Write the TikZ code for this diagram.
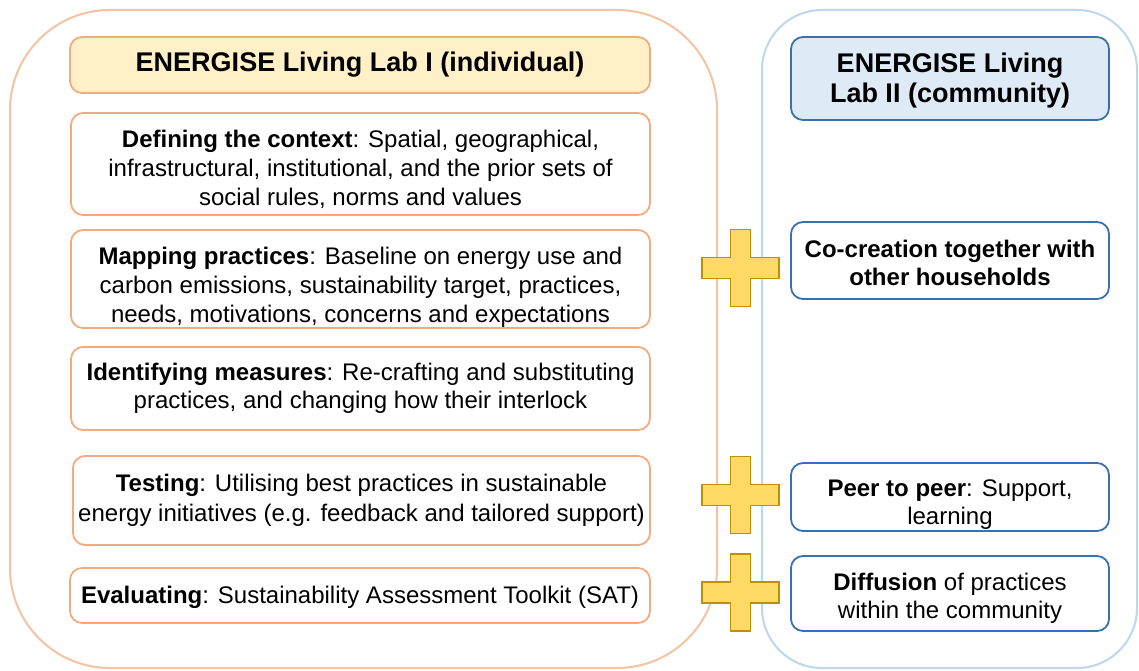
\documentclass[tikz,border=0pt]{standalone}
\usepackage{fontspec}
\setmainfont{Liberation Sans}
\definecolor{leftouter}{HTML}{F4C3A3}
\definecolor{obord}{HTML}{F0AC80}
\definecolor{ofill}{HTML}{FFF0C8}
\definecolor{rightouter}{HTML}{BDD7EE}
\definecolor{bbord}{HTML}{3A70B0}
\definecolor{bfill}{HTML}{DEEBF7}
\definecolor{plusfill}{HTML}{FFD966}
\definecolor{plusbord}{HTML}{BF9000}
\newcommand{\lowerby}[1]{\rule{0pt}{#1}}
\tikzset{
  outerL/.style={draw=leftouter, line width=2pt, rounded corners=100pt},
  outerR/.style={draw=rightouter, line width=2pt, rounded corners=60pt},
  obox/.style={draw=obord, line width=1.8pt, fill=white, rounded corners=12pt, inner sep=0pt, align=center, font=\fontsize{24}{29}\selectfont},
  otitle/.style={obox, fill=ofill, font=\fontsize{27}{30}\selectfont\bfseries},
  bbox/.style={draw=bbord, line width=1.8pt, fill=white, rounded corners=12pt, inner sep=0pt, align=center, minimum width=318pt, font=\fontsize{24}{28.5}\selectfont},
  btitle/.style={bbox, fill=bfill, font=\fontsize{27}{30}\selectfont\bfseries},
  plusstyle/.style={draw=plusbord, fill=plusfill, line width=1.2pt},
  pics/plussign/.style={code={\draw[plusstyle] (-10,-38.5) -- (10,-38.5) -- (10,-10.5) -- (38.5,-10.5) -- (38.5,10.5) -- (10,10.5) -- (10,38.5) -- (-10,38.5) -- (-10,10.5) -- (-38.5,10.5) -- (-38.5,-10.5) -- (-10,-10.5) -- cycle;}}
}
\begin{document}
\begin{tikzpicture}[x=1pt,y=-1pt]
\useasboundingbox (0,0) rectangle (1139,671);
\fill[white] (0,0) rectangle (1139,671);
% outer containers
\draw[outerL] (10,10) rectangle (717,668);
\draw[outerR] (762,10) rectangle (1137,668);
% left column
\node[otitle, minimum width=580pt, minimum height=56pt] (t1) at (360,65) {ENERGISE Living Lab I (individual)};
\node[obox, minimum width=579pt, minimum height=102pt] (b1) at (360.5,164) {\lowerby{27.5pt}\textbf{Defining the context}: Spatial, geographical,\\ infrastructural, institutional, and the prior sets of\\ social rules, norms and values};
\node[obox, minimum width=579pt, minimum height=98pt] (b2) at (360.5,279) {\lowerby{33.5pt}\textbf{Mapping practices}: Baseline on energy use and\\ carbon emissions, sustainability target, practices,\\ needs, motivations, concerns and expectations};
\node[obox, minimum width=579pt, minimum height=83pt, font=\fontsize{24}{28}\selectfont] (b3) at (360.5,388.5) {\textbf{Identifying measures}: Re-crafting and substituting\\ practices, and changing how their interlock};
\node[obox, minimum width=577pt, minimum height=89pt, font=\fontsize{24}{30}\selectfont] (b4) at (361.5,500.5) {\textbf{Testing}: Utilising best practices in sustainable\\ energy initiatives (e.g. feedback and tailored support)};
\node[obox, minimum width=580pt, minimum height=55pt] (b5) at (360,595.5) {\lowerby{21.5pt}\textbf{Evaluating}: Sustainability Assessment Toolkit (SAT)};
% right column
\node[btitle, minimum height=83pt] (t2) at (950,78.5) {\lowerby{24.5pt}ENERGISE Living\\ Lab II (community)};
\node[bbox, minimum height=77pt] (r1) at (950,260.5) {\lowerby{22.5pt}\textbf{Co-creation together with}\\ \textbf{other households}};
\node[bbox, minimum height=68pt] (r2) at (950,497) {\lowerby{31.5pt}\textbf{Peer to peer}: Support,\\ learning};
\node[bbox, minimum height=75pt] (r3) at (950,593.5) {\lowerby{26.5pt}\textbf{Diffusion} of practices\\ within the community};
% plus signs
\pic (p1) at (740.5,268) {plussign};
\pic (p2) at (740.5,495) {plussign};
\pic (p3) at (740.5,592.5) {plussign};
\end{tikzpicture}
\end{document}
